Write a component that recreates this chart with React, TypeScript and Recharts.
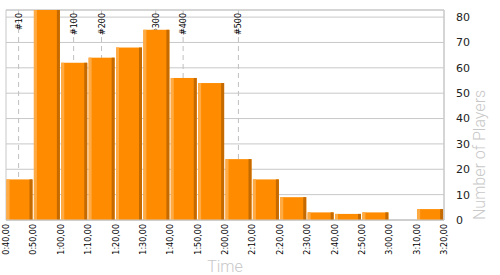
import {
  BarChart,
  Bar,
  XAxis,
  YAxis,
  CartesianGrid,
  ReferenceLine,
  ReferenceArea,
} from 'recharts'

// histogram bins, 10 minutes each (start minute)
const binStarts = [40, 50, 60, 70, 80, 90, 100, 110, 120, 130, 140, 150, 160, 170, 180, 190]
const playerCounts = [16, 84, 62, 64, 68, 75, 56, 54, 24, 16, 9, 3, 2.4, 3, 0, 4.3]

const tickMinutes = [40, 50, 60, 70, 80, 90, 100, 110, 120, 130, 140, 150, 160, 170, 180, 190, 200]
const tickLabels = [
  '0:40,00', '0:50,00', '1:00,00', '1:10,00', '1:20,00', '1:30,00', '1:40,00', '1:50,00',
  '2:00,00', '2:10,00', '2:20,00', '2:30,00', '2:40,00', '2:50,00', '3:00,00', '3:10,00', '3:20,00',
]

const yTicks = [0, 10, 20, 30, 40, 50, 60, 70, 80]

// rank markers
const markerLabels = ['#10', '#100', '#200', '#300', '#400', '#500']
const markerMinutes = [44.6, 64.7, 74.9, 94.7, 104.7, 124.9]

const data = binStarts.map((start, i) => ({ mid: start + 5, count: playerCounts[i] }))

const FONT = '"DejaVu Sans", Verdana, sans-serif'
const GRID = '#c8c8c8'

const TimeTick = (props: any) => {
  const { x, y, payload } = props
  const label = tickLabels[tickMinutes.indexOf(payload.value)]
  const tx = x + 3
  const ty = y
  return (
    <text
      x={tx}
      y={ty}
      transform={`rotate(-90, ${tx}, ${ty})`}
      textAnchor="end"
      fontSize={8}
      fontFamily={FONT}
      fill="#000"
    >
      {label}
    </text>
  )
}

const BevelBar = (props: any) => {
  const { x, y, width, height } = props
  if (!height || height <= 0) return null
  return (
    <g>
      <rect x={x} y={y} width={width} height={height} fill="#ff8c00" />
      <rect x={x} y={y} width={3} height={height} fill="#ffab45" />
      <rect x={x + width - 3} y={y} width={3} height={height} fill="#c46a00" />
    </g>
  )
}

const markerShape = (text: string) => (props: any) => {
  const { x1, y1, y2 } = props
  const top = Math.min(y1, y2)
  const bottom = Math.max(y1, y2)
  const tx = x1 + 3
  const ty = top + 3
  return (
    <g>
      <line x1={x1} y1={top} x2={x1} y2={bottom} stroke="#c0c0c0" strokeDasharray="5 4" />
      <text
        x={tx}
        y={ty}
        transform={`rotate(-90, ${tx}, ${ty})`}
        textAnchor="end"
        fontSize={8}
        fontFamily={FONT}
        fill="#000"
      >
        {text}
      </text>
    </g>
  )
}

const YTitle = (props: any) => {
  const { viewBox } = props
  const tx = viewBox.x + 41
  const ty = viewBox.y + viewBox.height
  return (
    <text
      x={tx}
      y={ty}
      transform={`rotate(-90, ${tx}, ${ty})`}
      textAnchor="start"
      fontSize={16}
      fontFamily="Roboto, sans-serif"
      fontWeight={300}
      fill="#c8c8c8"
    >
      Number of Players
    </text>
  )
}

export default function App() {
  return (
    <div style={{ position: 'absolute', left: 0, top: 0, background: '#fff' }}>
      <BarChart
        width={500}
        height={275}
        data={data}
        margin={{ top: 10, right: 0, bottom: 0, left: 6 }}
        barCategoryGap={0.5}
      >
        <CartesianGrid vertical={false} stroke={GRID} />
        <ReferenceArea x1={40} x2={200} y1={0} y2={82.8} fill="none" stroke={GRID} />
        {markerMinutes.map((m, i) => (
          <ReferenceLine
            key={markerLabels[i]}
            x={m}
            zIndex={-10}
            shape={markerShape(markerLabels[i])}
          />
        ))}
        <XAxis
          dataKey="mid"
          type="number"
          domain={[40, 200]}
          ticks={tickMinutes}
          interval={0}
          height={55}
          axisLine={{ stroke: GRID }}
          tickLine={false}
          tickSize={0}
          tickMargin={4}
          tick={<TimeTick />}
          label={{
            value: 'Time',
            position: 'insideBottom',
            offset: 3,
            fontSize: 16,
            fontFamily: 'Roboto, sans-serif',
            fontWeight: 300,
            fill: '#c8c8c8',
          }}
        />
        <YAxis
          orientation="right"
          domain={[0, 82.8]}
          allowDataOverflow
          ticks={yTicks}
          width={56}
          axisLine={{ stroke: GRID }}
          tickLine={false}
          tickMargin={6}
          tick={{ fontSize: 11, fontFamily: FONT, fill: '#222' }}
          label={<YTitle />}
        />
        <Bar dataKey="count" shape={<BevelBar />} isAnimationActive={false} />
      </BarChart>
    </div>
  )
}
